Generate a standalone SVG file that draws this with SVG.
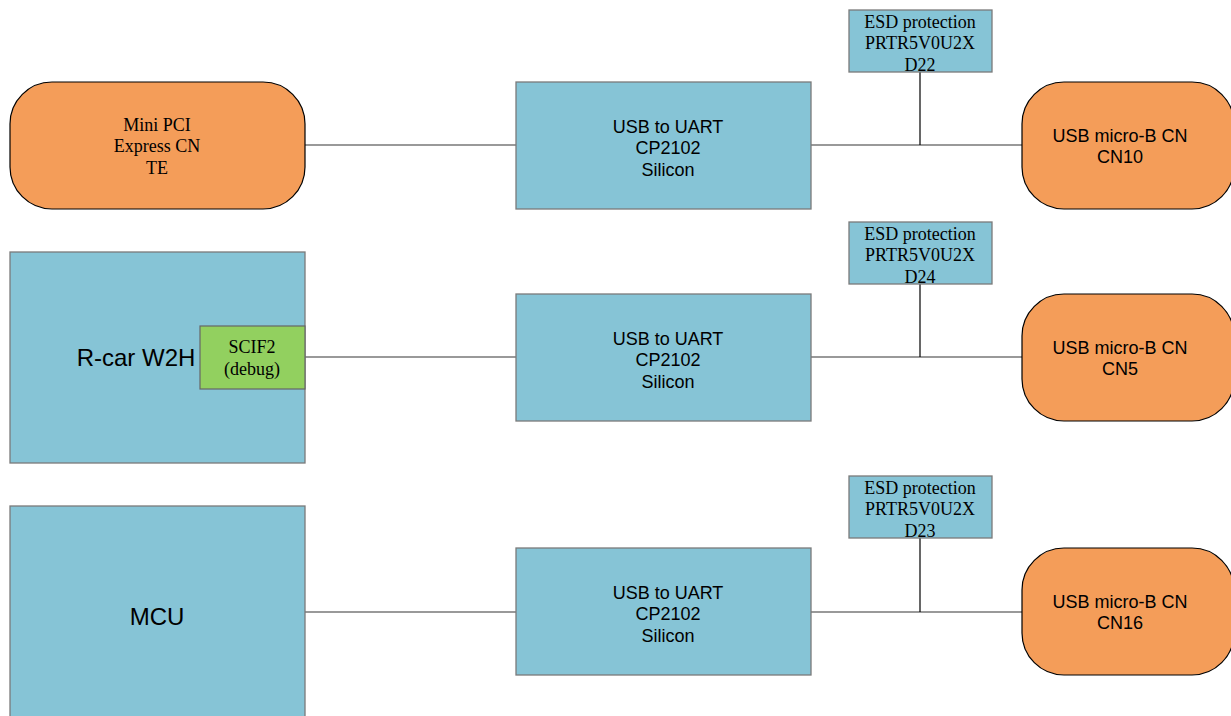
<svg xmlns="http://www.w3.org/2000/svg" width="1231" height="716" viewBox="0 0 1231 716">
<style>
.blue{fill:#86C4D6;stroke:#7a7a7a;stroke-width:1.3}
.org{fill:#F49D59;stroke:#000;stroke-width:1.2}
.grn{fill:#92D05F;stroke:#666;stroke-width:1.2}
.ser{font-family:"Liberation Serif",serif;font-size:18px;fill:#000;text-anchor:middle}
.san{font-family:"Liberation Sans",Arial,sans-serif;font-size:18px;fill:#000;text-anchor:middle}
.ln{stroke:#777;stroke-width:1.5;fill:none}
.vl{stroke:#000;stroke-width:1.2;fill:none}
</style>
<rect width="1231" height="716" fill="#fff"/>
<g id="connectors">
<line class="ln" x1="305" y1="145" x2="516" y2="145"/>
<line class="ln" x1="811" y1="145" x2="1022" y2="145"/>
<line class="vl" x1="920" y1="72" x2="920" y2="145"/>
<line class="ln" x1="305" y1="357" x2="516" y2="357"/>
<line class="ln" x1="811" y1="357" x2="1022" y2="357"/>
<line class="vl" x1="920" y1="284" x2="920" y2="357"/>
<line class="ln" x1="305" y1="612" x2="516" y2="612"/>
<line class="ln" x1="811" y1="612" x2="1022" y2="612"/>
<line class="vl" x1="920" y1="538" x2="920" y2="612"/>
</g>
<g id="minipci">
<rect class="org" x="10" y="82" width="295" height="127" rx="42" ry="42"/>
<text class="ser" x="157" y="131">Mini PCI</text>
<text class="ser" x="157" y="152">Express CN</text>
<text class="ser" x="157" y="174">TE</text>
</g>
<g id="uart1">
<rect class="blue" x="516" y="82" width="295" height="127"/>
<text class="san" x="668" y="133">USB to UART</text>
<text class="san" x="668" y="154">CP2102</text>
<text class="san" x="668" y="176">Silicon</text>
</g>
<g id="esd22">
<rect class="blue" x="849" y="10" width="143" height="62"/>
<text class="ser" x="920" y="28">ESD protection</text>
<text class="ser" x="920" y="49">PRTR5V0U2X</text>
<text class="ser" x="920" y="71">D22</text>
</g>
<g id="cn10">
<rect class="org" x="1022" y="82" width="212" height="127" rx="42" ry="42"/>
<text class="san" x="1120" y="142">USB micro-B CN</text>
<text class="san" x="1120" y="163">CN10</text>
</g>
<g id="rcar">
<rect class="blue" x="10" y="252" width="295" height="211"/>
<text x="136" y="366" style="font-family:'Liberation Sans',Arial,sans-serif;font-size:24px;text-anchor:middle">R-car W2H</text>
</g>
<g id="scif2">
<rect class="grn" x="200" y="326" width="105" height="63"/>
<text class="ser" x="252" y="353">SCIF2</text>
<text class="ser" x="252" y="375">(debug)</text>
</g>
<g id="uart2">
<rect class="blue" x="516" y="294" width="295" height="127"/>
<text class="san" x="668" y="345">USB to UART</text>
<text class="san" x="668" y="366">CP2102</text>
<text class="san" x="668" y="388">Silicon</text>
</g>
<g id="esd24">
<rect class="blue" x="849" y="222" width="143" height="62"/>
<text class="ser" x="920" y="240">ESD protection</text>
<text class="ser" x="920" y="261">PRTR5V0U2X</text>
<text class="ser" x="920" y="283">D24</text>
</g>
<g id="cn5">
<rect class="org" x="1022" y="294" width="212" height="127" rx="42" ry="42"/>
<text class="san" x="1120" y="354">USB micro-B CN</text>
<text class="san" x="1120" y="375">CN5</text>
</g>
<g id="mcu">
<rect class="blue" x="10" y="506" width="295" height="215"/>
<text x="157" y="625" style="font-family:'Liberation Sans',Arial,sans-serif;font-size:24px;text-anchor:middle">MCU</text>
</g>
<g id="uart3">
<rect class="blue" x="516" y="548" width="295" height="127"/>
<text class="san" x="668" y="599">USB to UART</text>
<text class="san" x="668" y="620">CP2102</text>
<text class="san" x="668" y="642">Silicon</text>
</g>
<g id="esd23">
<rect class="blue" x="849" y="476" width="143" height="62"/>
<text class="ser" x="920" y="494">ESD protection</text>
<text class="ser" x="920" y="515">PRTR5V0U2X</text>
<text class="ser" x="920" y="537">D23</text>
</g>
<g id="cn16">
<rect class="org" x="1022" y="548" width="212" height="127" rx="42" ry="42"/>
<text class="san" x="1120" y="608">USB micro-B CN</text>
<text class="san" x="1120" y="629">CN16</text>
</g>
</svg>
